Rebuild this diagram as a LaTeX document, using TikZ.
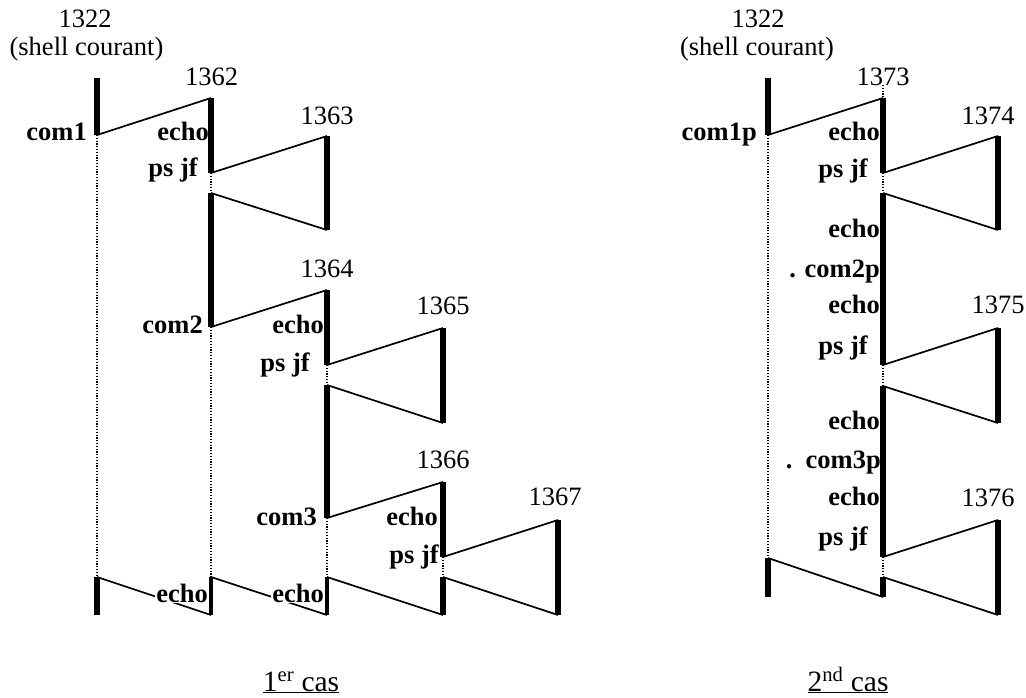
\documentclass[tikz,border=0pt]{standalone}
\usepackage{fontspec}
\setmainfont{Liberation Serif}
\begin{document}
\tikzset{
  proc/.style={line width=6pt},
  procthin/.style={line width=4pt},
  fork/.style={line width=1.7pt},
  wait/.style={line width=1.2pt, dash pattern=on 1.2pt off 1.6pt},
  cmd/.style={font=\fontsize{26.5}{30}\selectfont\bfseries, inner sep=0pt, anchor=base east},
  pid/.style={font=\fontsize{26.5}{30}\selectfont, inner sep=0pt, anchor=base},
  legend/.style={font=\fontsize{29.5}{33}\selectfont, inner sep=0pt, anchor=base},
}
\begin{tikzpicture}[x=1pt,y=-1pt]
\useasboundingbox (0,0) rectangle (1026,697);

% ---------- first case: time points of each process ----------
\coordinate (A0a) at (97,78);  \coordinate (A0b) at (97,135);
\coordinate (A0e) at (97,577); \coordinate (A0f) at (97,615);
\coordinate (A1a) at (211,98);  \coordinate (A1b) at (211,173);
\coordinate (A1c) at (211,193); \coordinate (A1d) at (211,327);
\coordinate (A1e) at (211,577); \coordinate (A1f) at (211,615);
\coordinate (A2a) at (327,136); \coordinate (A2b) at (327,230);
\coordinate (A2c) at (327,290); \coordinate (A2d) at (327,365);
\coordinate (A2e) at (327,385); \coordinate (A2f) at (327,518);
\coordinate (A2g) at (327,577); \coordinate (A2h) at (327,615);
\coordinate (A3a) at (443,328); \coordinate (A3b) at (443,423);
\coordinate (A3c) at (443,482); \coordinate (A3d) at (443,557);
\coordinate (A3e) at (443,577); \coordinate (A3f) at (443,615);
\coordinate (A4a) at (558,520); \coordinate (A4b) at (558,615);

% ---------- second case ----------
\coordinate (B0a) at (768,78);  \coordinate (B0b) at (768,135);
\coordinate (B0e) at (768,558); \coordinate (B0f) at (768,597);
\coordinate (B1t) at (883,85);
\coordinate (B1a) at (883,98);  \coordinate (B1b) at (883,173);
\coordinate (B1c) at (883,193); \coordinate (B1d) at (883,365);
\coordinate (B1e) at (883,386); \coordinate (B1f) at (883,557);
\coordinate (B1g) at (883,577); \coordinate (B1h) at (883,597);
\coordinate (B2a) at (998,136); \coordinate (B2b) at (998,230);
\coordinate (B2c) at (998,328); \coordinate (B2d) at (998,423);
\coordinate (B2e) at (998,520); \coordinate (B2f) at (998,615);

% fork / return links
\draw[fork] (A0b) -- (A1a);
\draw[fork] (A1b) -- (A2a);
\draw[fork] (A1c) -- (A2b);
\draw[fork] (A1d) -- (A2c);
\draw[fork] (A2d) -- (A3a);
\draw[fork] (A2e) -- (A3b);
\draw[fork] (A2f) -- (A3c);
\draw[fork] (A3d) -- (A4a);
\draw[fork] (A0e) -- (A1f);
\draw[fork] (A1e) -- (A2h);
\draw[fork] (A2g) -- (A3f);
\draw[fork] (A3e) -- (A4b);

\draw[fork] (B0b) -- (B1a);
\draw[fork] (B1b) -- (B2a);
\draw[fork] (B1c) -- (B2b);
\draw[fork] (B1d) -- (B2c);
\draw[fork] (B1e) -- (B2d);
\draw[fork] (B1f) -- (B2e);
\draw[fork] (B0e) -- (B1h);
\draw[fork] (B1g) -- (B2f);

% waiting periods
\draw[wait] (A0b) -- (A0e);
\draw[wait] (A1b) -- (A1c);
\draw[wait] (A1d) -- (A1e);
\draw[wait] (A2d) -- (A2e);
\draw[wait] (A2f) -- (A2g);
\draw[wait] (A3d) -- (A3e);

\draw[wait] (B0b) -- (B0e);
\draw[wait] (B1t) -- (B1a);
\draw[wait] (B1b) -- (B1c);
\draw[wait] (B1d) -- (B1e);
\draw[wait] (B1f) -- (B1g);

% process numbers
\node[pid] (p1322a) at (85,27) {1322};
\node[pid] (shella) at (86.5,55) {(shell courant)};
\node[pid] (p1362) at (211.5,85) {1362};
\node[pid] (p1363) at (327,124) {1363};
\node[pid] (p1364) at (327,277) {1364};
\node[pid] (p1365) at (443,314) {1365};
\node[pid] (p1366) at (443,468) {1366};
\node[pid] (p1367) at (555,505) {1367};

\node[pid] (p1322b) at (758,27) {1322};
\node[pid] (shellb) at (757,55) {(shell courant)};
\node[pid] (p1373) at (883,85) {1373};
\node[pid] (p1374) at (988,124) {1374};
\node[pid] (p1375) at (998,313) {1375};
\node[pid] (p1376) at (988,506) {1376};

% commands of the first case
\node[cmd] (a1) at (87,140) {com1};
\node[cmd] (a2) at (209,140) {echo};
\node[cmd] (a3) at (198,176) {ps jf};
\node[cmd] (a4) at (203,333) {com2};
\node[cmd] (a5) at (324,333) {echo};
\node[cmd] (a6) at (310,371) {ps jf};
\node[cmd] (a7) at (317,525) {com3};
\node[cmd] (a8) at (438,525) {echo};
\node[cmd] (a9) at (439,563) {ps jf};
\node[cmd, fill=white, inner sep=1pt] (a10) at (209,602) {echo};
\node[cmd, fill=white, inner sep=1pt] (a11) at (325,602) {echo};

% commands of the second case
\node[cmd] (b1) at (757,140) {com1p};
\node[cmd] (b2) at (880,140) {echo};
\node[cmd] (b3) at (868,177) {ps jf};
\node[cmd] (b4) at (880,237) {echo};
\node[cmd] (b5) at (880,277) {. com2p};
\node[cmd] (b6) at (880,313) {echo};
\node[cmd] (b7) at (868,354) {ps jf};
\node[cmd] (b8) at (880,429) {echo};
\node[cmd] (b9) at (881,468) {.\ \ com3p};
\node[cmd] (b10) at (880,505) {echo};
\node[cmd] (b11) at (868,545) {ps jf};

% active periods of each process
\draw[proc] (A0a) -- (A0b);
\draw[proc] (A0e) -- (A0f);
\draw[proc] (A1a) -- (A1b);
\draw[proc] (A1c) -- (A1d);
\draw[procthin] (A1e) -- (A1f);
\draw[proc] (A2a) -- (A2b);
\draw[proc] (A2c) -- (A2d);
\draw[proc] (A2e) -- (A2f);
\draw[procthin] (A2g) -- (A2h);
\draw[proc] (A3a) -- (A3b);
\draw[proc] (A3c) -- (A3d);
\draw[proc] (A3e) -- (A3f);
\draw[proc] (A4a) -- (A4b);

\draw[proc] (B0a) -- (B0b);
\draw[proc] (B0e) -- (B0f);
\draw[proc] (B1a) -- (B1b);
\draw[proc] (B1c) -- (B1d);
\draw[proc] (B1e) -- (B1f);
\draw[proc] (B1g) -- (B1h);
\draw[proc] (B2a) -- (B2b);
\draw[proc] (B2c) -- (B2d);
\draw[proc] (B2e) -- (B2f);

% captions
\node[legend] (case1) at (301,691) {\underline{1\textsuperscript{er} cas}};
\node[legend] (case2) at (848,691) {\underline{2\textsuperscript{nd} cas}};
\end{tikzpicture}
\end{document}
